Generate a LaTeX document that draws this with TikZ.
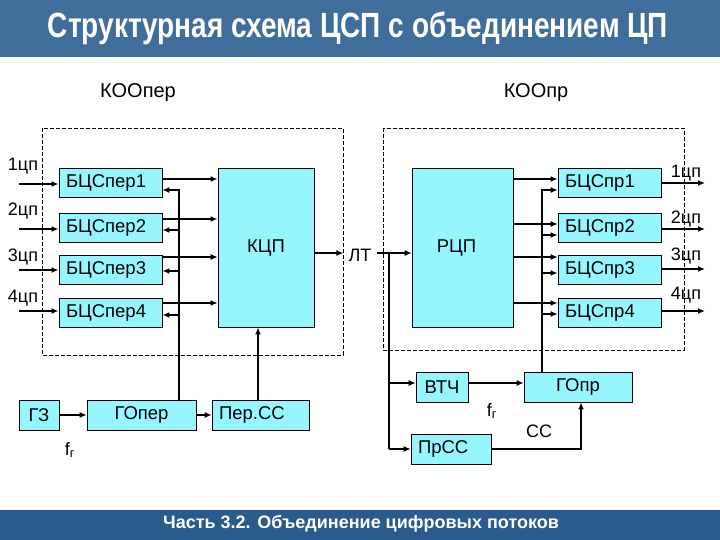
\documentclass[tikz,border=0pt]{standalone}
\usepackage{fontspec}
\setmainfont{Liberation Sans}
\usepackage{graphicx}
\usetikzlibrary{arrows.meta}

\definecolor{blkfill}{RGB}{150,246,255}
\definecolor{hdrblue}{RGB}{64,110,156}
\definecolor{ftrblue}{RGB}{42,91,141}

\tikzset{
  blk/.style={draw, fill=blkfill, line width=0.9pt, inner sep=0pt,
    font=\fontsize{18.5}{21}\selectfont},
  lblk/.style={blk, text width=#1, align=left, inner xsep=7pt, minimum height=29pt},
  cblk/.style={blk, minimum height=30pt},
  thn/.style={line width=1.1pt, -{Latex[length=7pt,width=6pt]}},
  thk/.style={line width=2.3pt, -{Latex[length=7pt,width=6pt]}},
  lbl/.style={font=\fontsize{18}{21}\selectfont, inner sep=1pt}
}

\begin{document}
\begin{tikzpicture}[x=1pt, y=-1pt]
        \useasboundingbox (0,0) rectangle (720,540);
        % header and footer bands
        \fill[hdrblue] (0,0) rectangle (720,57);
        \fill[ftrblue] (0,510) rectangle (720,540);
        \node[text=white, font=\fontsize{35}{38}\selectfont\bfseries] (title) at (358,28)
        {\scalebox{0.8}[1]{Структурная схема ЦСП с объединением ЦП}};
        \node[text=white, font=\fontsize{18}{21}\selectfont\bfseries] (part) at (361,524)
        {Часть 3.2. Объединение цифровых потоков};

        \node[lbl, font=\fontsize{20}{23}\selectfont] (koper) at (138,93) {КООпер};
        \node[lbl, font=\fontsize{20}{23}\selectfont] (kopr) at (536,93) {КООпр};
        \draw[dash pattern=on 4pt off 2pt, line width=0.8pt] (42,128) rectangle (343,355);
        \draw[dash pattern=on 4pt off 2pt, line width=0.8pt] (383,128) rectangle (684,350);

        % transmitting side
        \node[lblk=89pt] (bp1) at (110.5,182.5) {БЦСпер1};
        \node[lblk=89pt] (bp2) at (110.5,227.5) {БЦСпер2};
        \node[lblk=89pt] (bp3) at (110.5,269.5) {БЦСпер3};
        \node[lblk=89pt] (bp4) at (110.5,313) {БЦСпер4};
        \node[blk, minimum width=96pt, minimum height=159pt] (kcp) at (266,247.5) {КЦП};

        \coordinate (in1) at (19,184);
        \coordinate (in2) at (19,229);
        \coordinate (in3) at (19,270);
        \coordinate (in4) at (19,311);
        \node[lbl] at (23,166) {1цп};
        \node[lbl] at (23,211) {2цп};
        \node[lbl] at (23,257) {3цп};
        \node[lbl] at (23,298) {4цп};
        \draw[thk] (in1) -- (in1 -| bp1.west);
        \draw[thk] (in2) -- (in2 -| bp2.west);
        \draw[thk] (in3) -- (in3 -| bp3.west);
        \draw[thk] (in4) -- (in4 -| bp4.west);

        \draw[thk] ([yshift=3.5pt]bp1.east) -- ([yshift=3.5pt]bp1.east -| kcp.west);
        \draw[thk] ([yshift=8.5pt]bp2.east) -- ([yshift=8.5pt]bp2.east -| kcp.west);
        \draw[thn] ([yshift=12.5pt]bp3.east) -- ([yshift=12.5pt]bp3.east -| kcp.west);
        \draw[thk] ([yshift=10pt]bp4.east) -- ([yshift=10pt]bp4.east -| kcp.west);

        \node[cblk, minimum width=40pt] (gz) at (39,415) {ГЗ};
        \node[cblk, minimum width=109pt] (gop) at (141.5,415) {ГОпер};
        \node[cblk, text width=83pt, align=left, inner xsep=7pt] (perss) at (260.5,415) {Пер.СС};
        \node[lbl] (fg1) at (70,450) {f\textsubscript{г}};
        \draw[thn] (gz) -- (gop);
        \draw[thn] (gop) -- (perss);

        \coordinate (railL) at (179,190);
        \draw[thn] (gop.north -| railL) -- (railL) -- (railL -| bp1.east);
        \draw[thk] (railL |- bp2.east) ++(0,2.5) -- ([yshift=-2.5pt]bp2.east);
        \draw[thk] (railL |- bp3.east) ++(0,1.5) -- ([yshift=-1.5pt]bp3.east);
        \draw[thk] (railL |- bp4.east) ++(0,2) -- ([yshift=-2pt]bp4.east);
        \draw[thk] ([xshift=-2.5pt]perss.north) -- ([xshift=-2.5pt]perss.north |- kcp.south);

        % line
        \node[lbl, inner sep=5pt] (lt) at (360,255) {ЛТ};
        \draw[thn] ([yshift=2pt]kcp.east |- lt) -- ([yshift=2pt]lt.west);

        % receiving side
        \node[blk, minimum width=101pt, minimum height=159pt] (rcp) at (462.5,247.5) {РЦП\hspace*{12pt}};
        \node[lblk=89pt] (bq1) at (609.5,182.5) {БЦСпр1};
        \node[lblk=89pt] (bq2) at (609.5,227.5) {БЦСпр2};
        \node[lblk=89pt] (bq3) at (609.5,269.5) {БЦСпр3};
        \node[lblk=89pt] (bq4) at (609.5,313) {БЦСпр4};
        \draw[thn] ([yshift=2pt]lt.east) -- ([yshift=2pt]rcp.west |- lt);

        \draw[thk] ([yshift=3.5pt]bq1.west -| rcp.east) -- ([yshift=3.5pt]bq1.west);
        \draw[thn] ([yshift=3.5pt]bq2.west -| rcp.east) -- ([yshift=3.5pt]bq2.west);
        \draw[thn] ([yshift=12.5pt]bq3.west -| rcp.east) -- ([yshift=12.5pt]bq3.west);
        \draw[thk] ([yshift=10pt]bq4.west -| rcp.east) -- ([yshift=10pt]bq4.west);

        \coordinate (out1) at (705,183);
        \coordinate (out2) at (705,229);
        \coordinate (out3) at (705,269);
        \coordinate (out4) at (705,311);
        \draw[thk] (out1 -| bq1.east) -- (out1);
        \draw[thk] (out2 -| bq2.east) -- (out2);
        \draw[thk] (out3 -| bq3.east) -- (out3);
        \draw[thk] (out4 -| bq4.east) -- (out4);
        \node[lbl] at (686,173) {1цп};
        \node[lbl] at (686,219) {2цп};
        \node[lbl] at (686,256) {3цп};
        \node[lbl] at (686,295) {4цп};

        \node[cblk, minimum width=52pt] (vtch) at (442,387) {ВТЧ};
        \node[cblk, minimum width=108pt] (gopr) at (578,387) {ГОпр};
        \node[cblk, text width=66pt, align=left, inner xsep=7pt] (prss) at (451,449) {ПрСС};
        \node[lbl] (fg2) at (492,411) {f\textsubscript{г}};
        \node[lbl] (cc) at (539,431) {СС};

        \coordinate (jn) at (389,253);
        \draw[thn, -] (jn) -- (jn |- prss.west);
        \draw[thn] (jn |- vtch.west) ++(0,-4) -- ([yshift=4pt]vtch.west);
        \draw[thn] (jn |- prss.west) -- (prss.west);
        \draw[thn] ([yshift=4pt]vtch.east) -- ([yshift=4pt]gopr.west);
        \draw[thk] (prss.east) -| ([xshift=3pt]gopr.south);

        \coordinate (railR) at (542,190);
        \draw[thn] (gopr.north -| railR) -- (railR) -- (railR -| bq1.west);
        \draw[thk] (railR |- bq2.west) ++(0,7.5) -- ([yshift=-7.5pt]bq2.west);
        \draw[thk] (railR |- bq3.west) ++(0,3.5) -- ([yshift=-3.5pt]bq3.west);
        \draw[thn] (railR |- bq4.west) ++(0,1) -- ([yshift=-1pt]bq4.west);
      \end{tikzpicture}
\end{document}
